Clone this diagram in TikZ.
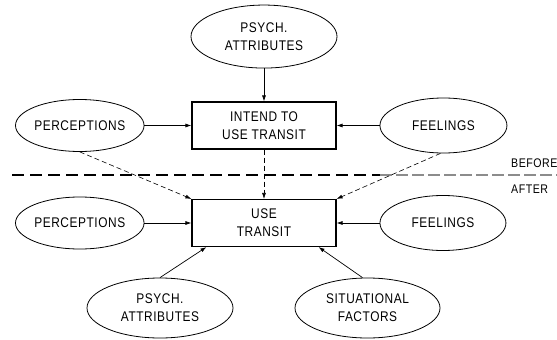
\documentclass[tikz,border=0pt]{standalone}
\usepackage{fontspec}
\setmainfont{Liberation Sans}[FakeStretch=0.85,LetterSpace=4]
\usepackage{tikz}
\usetikzlibrary{positioning,arrows.meta,shapes.geometric}

\begin{document}
\begin{tikzpicture}[x=1pt,y=-1pt,>={Latex[length=6pt,width=4pt]},
    every node/.style={font=\fontsize{14}{18}\selectfont,align=center},
    box/.style={draw,line width=1.1pt,minimum width=144pt,minimum height=47pt,inner sep=0pt},
    oval/.style={draw,ellipse,line width=0.8pt,inner sep=0pt},
    link/.style={->,line width=0.7pt},
    dlink/.style={->,line width=0.6pt,dash pattern=on 5pt off 3pt}]
    \useasboundingbox (0,0) rectangle (557,340);
    % before
    \node[box] (it) at (264,125.5) {INTEND TO\\USE TRANSIT};
    \node[oval,minimum width=146pt,minimum height=63pt,above=33pt of it] (ps1) {PSYCH.\\ATTRIBUTES};
    \node[oval,minimum width=125pt,minimum height=52pt,left=47pt of it] (pt1) {PERCEPTIONS};
    \node[oval,minimum width=127pt,minimum height=55pt,right=43pt of it] (fe1) {FEELINGS};
    % after
    \node[box] (ut) at (264,223) {USE\\TRANSIT};
    \node[oval,minimum width=125pt,minimum height=52pt,left=47pt of ut] (pt2) {PERCEPTIONS};
    \node[oval,minimum width=126pt,minimum height=55pt,right=43pt of ut] (fe2) {FEELINGS};
    \node[oval,minimum width=146pt,minimum height=60pt] (ps2) at (160,308) {PSYCH.\\ATTRIBUTES};
    \node[oval,minimum width=145pt,minimum height=60pt] (sf) at (367.5,308) {SITUATIONAL\\FACTORS};
    \node[anchor=west,inner sep=0pt,font=\fontsize{12.5}{15}\selectfont] (bf) at (511,163) {BEFORE};
    \node[anchor=west,inner sep=0pt,font=\fontsize{12.5}{15}\selectfont] (af) at (511,189) {AFTER};
    \draw[line width=1.2pt,dash pattern=on 12pt off 6pt] (12,175) -- (380,175);
    \draw[line width=1.2pt,black!45,dash pattern=on 12pt off 4pt] (380,175) -- (557,175);
    \draw[link] (ps1)--(it); \draw[link] (pt1)--(it); \draw[link] (fe1)--(it);
    \draw[link] (pt2)--(ut); \draw[link] (fe2)--(ut);
    \draw[link] (ps2.north)--([xshift=15pt]ut.south west);
    \draw[link] ([xshift=-5pt]sf.north)--([xshift=-18pt]ut.south east);
    \draw[dlink] (pt1.south)--(ut.north west);
    \draw[dlink] (it)--(ut); \draw[dlink] ([xshift=-3pt]fe1.south)--(ut.north east);
\end{tikzpicture}
\end{document}
